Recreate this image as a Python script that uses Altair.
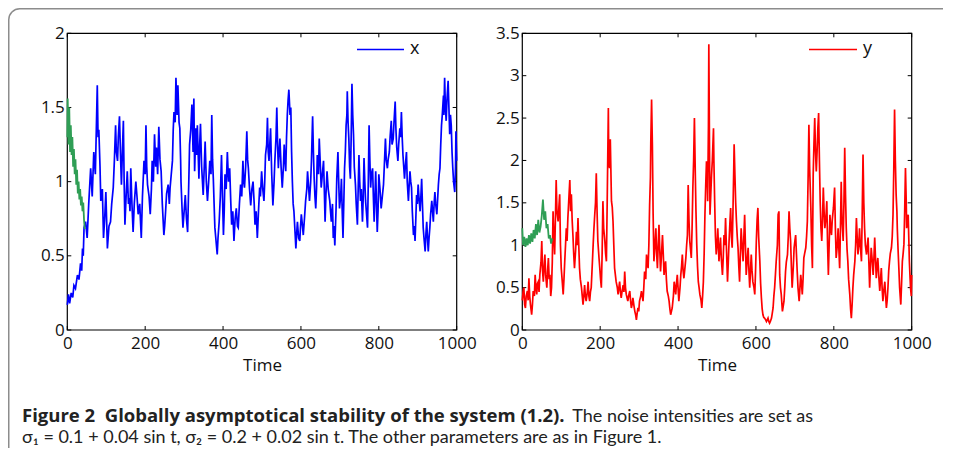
import altair as alt
import pandas as pd

# ---------------- data ----------------
x_series = [
 (0,0.17),(3,0.24),(6,0.18),(10,0.25),(14,0.22),(17,0.30),(21,0.28),(26,0.37),(30,0.34),(34,0.45),
 (37,0.40),(39,0.55),(41,0.50),(43,0.69),(47,0.73),(51,0.62),(55,0.85),(60,1.09),(64,0.90),(68,1.20),
 (72,1.05),(77,1.65),(79,1.30),(81,1.35),(84,1.10),(86,0.87),(90,0.95),(93,0.62),(96,0.75),(99,0.93),
 (103,0.55),(107,0.70),(111,0.73),(114,0.85),(118,0.96),(121,1.15),(124,1.38),(126,1.20),(129,1.14),(131,1.30),
 (134,1.44),(137,1.15),(139,0.98),(142,1.25),(144,1.41),(146,1.00),(148,0.71),(151,0.90),(154,1.07),(157,0.85),
 (159,0.89),(161,0.80),(163,1.09),(166,0.85),(169,0.66),(172,0.85),(176,1.00),(179,0.90),(182,0.78),(186,0.85),
 (190,0.62),(193,0.90),(197,1.14),(200,1.05),(202,1.38),(204,1.10),(206,0.98),(210,0.90),(213,0.78),(216,0.95),
 (218,1.14),(221,1.00),(224,1.32),(227,1.10),(229,1.23),(232,1.05),(235,1.37),(238,1.15),(241,1.07),(244,0.85),
 (248,0.64),(250,0.70),(252,0.78),(255,0.92),(259,0.98),(262,0.85),(264,0.96),(267,1.05),(270,1.14),(272,1.35),
 (274,1.47),(277,1.40),(279,1.70),(282,1.45),(284,1.65),(287,1.40),(289,1.36),(291,1.15),(292,1.00),(295,0.80),
 (297,0.69),(300,0.80),(303,0.91),(306,0.75),(309,0.66),(312,1.00),(314,1.25),(317,1.35),(320,1.52),(323,1.20),
 (325,1.56),(327,1.07),(330,1.36),(332,1.18),(334,1.38),(336,1.20),(338,1.02),(340,1.25),(342,1.39),(345,1.10),
 (349,0.91),(351,1.05),(354,1.27),(357,1.00),(360,0.87),(363,1.00),(366,1.14),(369,1.05),(371,1.45),(373,1.15),
 (375,1.02),(377,0.85),(379,0.69),(382,0.60),(385,0.51),(387,0.62),(390,0.73),(393,0.90),(396,1.18),(398,0.95),
 (401,0.64),(403,0.80),(405,1.05),(408,0.95),(411,1.20),(414,1.00),(417,1.09),(420,0.85),(422,0.71),(425,0.80),
 (428,0.60),(431,0.75),(434,0.82),(437,0.70),(439,0.69),(442,0.85),(445,0.98),(448,0.90),(451,1.14),(453,1.00),
 (455,0.96),(458,1.10),(461,1.34),(463,1.15),(465,1.09),(468,0.95),(471,0.84),(474,0.95),(477,1.00),(480,0.85),
 (482,0.71),(485,0.80),(488,0.62),(491,0.80),(494,0.96),(496,0.90),(499,1.07),(502,0.95),(505,0.87),(507,1.00),
 (509,1.18),(512,1.25),(514,1.43),(516,1.20),(518,1.14),(520,1.25),(522,1.36),(525,1.05),(528,0.84),(531,1.00),
 (533,1.14),(536,1.30),(538,1.50),(540,1.25),(542,1.09),(544,1.20),(546,1.29),(549,1.10),(552,0.96),(555,1.10),
 (557,1.25),(559,1.15),(561,1.07),(563,1.30),(565,1.45),(567,1.55),(569,1.62),(572,1.45),(574,1.50),(576,1.20),
 (578,1.00),(580,0.85),(582,0.80),(585,0.65),(587,0.55),(589,0.65),(591,0.73),(594,0.62),(597,0.60),(599,0.70),
 (601,0.78),(604,0.70),(606,0.64),(609,0.75),(612,0.87),(615,0.95),(617,1.07),(620,0.95),(622,0.87),(625,1.00),
 (627,1.14),(630,1.44),(632,1.20),(634,1.02),(636,0.90),(638,0.82),(640,0.95),(642,1.18),(645,1.05),(647,1.29),
 (650,1.10),(652,0.96),(655,1.05),(658,1.14),(660,0.95),(662,0.73),(664,0.90),(667,1.07),(670,0.95),(674,0.87),
 (676,0.80),(678,0.73),(681,0.85),(683,0.62),(685,0.70),(687,0.57),(690,0.80),(692,1.02),(695,1.20),(697,1.00),
 (699,0.82),(702,0.90),(704,1.02),(706,0.80),(708,0.62),(710,0.85),(712,1.09),(714,1.20),(716,1.38),(718,1.45),
 (719,1.61),(721,1.40),(723,1.29),(725,1.10),(727,1.02),(729,1.30),(731,1.66),(733,1.45),(735,1.32),(737,1.10),
 (740,0.98),(742,0.85),(745,0.71),(747,0.95),(749,1.18),(751,1.00),(753,0.87),(755,0.95),(758,0.73),(760,0.90),
 (762,1.16),(764,1.00),(766,0.87),(768,0.80),(771,0.69),(773,1.00),(775,1.38),(777,1.15),(779,0.96),(781,1.05),
 (784,1.09),(786,0.90),(788,0.73),(790,0.90),(792,1.07),(794,0.85),(796,0.66),(798,0.80),(800,1.05),(803,0.95),
 (806,0.82),(809,0.90),(812,0.98),(814,1.10),(817,1.29),(819,1.15),(822,1.09),(824,1.15),(827,1.20),(829,1.30),
 (832,1.41),(834,1.25),(837,1.29),(839,1.40),(842,1.54),(844,1.35),(846,1.23),(849,1.14),(851,1.25),(854,1.36),
 (856,1.30),(858,1.47),(860,1.30),(862,1.18),(864,1.10),(866,1.02),(868,1.10),(871,1.20),(873,1.00),(876,0.87),
 (878,0.98),(880,1.07),(882,1.00),(884,0.96),(886,0.80),(889,0.64),(891,0.70),(893,0.60),(895,0.75),(897,0.91),
 (899,0.85),(901,0.98),(903,0.90),(906,0.80),(908,0.90),(910,1.02),(912,0.85),(914,0.69),(916,0.62),(919,0.53),
 (921,0.65),(923,0.73),(925,0.62),(927,0.53),(929,0.62),(931,0.69),(933,0.78),(936,0.87),(938,0.80),(940,0.73),
 (942,0.85),(944,0.93),(946,0.85),(949,0.78),(951,0.88),(953,0.98),(955,1.05),(957,1.09),(959,1.25),(961,1.38),
 (963,1.45),(966,1.58),(967,1.45),(969,1.70),(971,1.50),(973,1.41),(975,1.55),(978,1.68),(980,1.50),(982,1.32),
 (984,1.45),(986,1.38),(988,1.20),(990,1.09),(992,1.00),(995,0.93),(997,1.10),(998,1.34),(1000,1.14),
]

x_green = [
 (0,1.30),(1,1.56),(3,1.25),(5,1.50),(7,1.20),(9,1.38),(11,1.18),(13,1.30),(15,1.10),(17,1.22),
 (19,1.05),(21,1.15),(23,0.98),(25,1.08),(27,0.92),(29,1.00),(31,0.88),(33,0.95),(35,0.84),(37,0.90),
 (39,0.80),(41,0.86),(43,0.74),(45,0.68),
]

y_series = [
 (0,0.35),(2,0.45),(4,0.50),(6,0.30),(8,0.26),(10,0.40),(13,0.46),(15,0.35),(17,0.61),(19,0.40),
 (21,0.30),(24,0.18),(26,0.30),(28,0.46),(31,0.40),(33,0.65),(35,0.50),(37,0.42),(39,0.55),(41,0.57),
 (43,0.45),(45,0.65),(48,0.80),(50,1.05),(52,0.70),(54,0.57),(56,0.75),(58,0.89),(60,0.65),(63,0.50),
 (65,0.70),(67,0.85),(69,0.60),(71,0.65),(73,0.40),(75,0.50),(77,0.80),(79,1.40),(81,1.10),(83,0.89),
 (85,1.30),(87,1.77),(89,1.40),(92,1.28),(94,1.45),(96,1.60),(98,1.00),(100,0.73),(103,0.55),(105,0.42),
 (107,0.60),(109,0.81),(111,1.00),(113,1.20),(115,1.05),(117,1.32),(119,1.50),(122,1.77),(124,1.40),(126,1.60),
 (128,1.30),(130,1.12),(132,0.90),(134,0.73),(137,0.95),(139,1.16),(141,1.00),(143,1.32),(145,1.00),(147,0.73),
 (149,0.60),(152,0.50),(154,0.40),(156,0.30),(158,0.40),(160,0.53),(162,0.40),(164,0.34),(167,0.45),(169,0.57),
 (171,0.40),(173,0.34),(175,0.45),(177,0.50),(180,0.80),(182,1.01),(184,1.20),(186,1.36),(188,1.50),(190,1.85),
 (192,1.40),(194,1.05),(197,0.85),(199,0.73),(201,0.60),(203,0.50),(205,0.90),(207,1.52),(209,1.20),(212,1.05),
 (214,0.90),(216,0.81),(218,1.50),(221,2.62),(222,2.00),(224,1.91),(226,2.25),(229,1.52),(231,1.45),(233,1.28),
 (235,1.00),(237,0.73),(239,0.65),(241,0.57),(244,0.50),(246,0.42),(248,0.50),(250,0.57),(252,0.45),(254,0.38),
 (256,0.45),(259,0.53),(261,0.45),(263,0.69),(265,0.50),(267,0.42),(269,0.38),(271,0.34),(273,0.40),(276,0.46),
 (278,0.35),(280,0.26),(282,0.30),(284,0.38),(287,0.28),(289,0.22),(291,0.18),(293,0.12),(295,0.20),(297,0.26),
 (299,0.22),(301,0.34),(304,0.40),(306,0.46),(308,0.40),(310,0.34),(312,0.50),(314,0.69),(317,0.60),(319,0.89),
 (321,0.80),(323,0.73),(325,1.00),(327,1.48),(329,1.80),(330,2.22),(332,2.72),(334,2.20),(336,1.36),(338,0.81),
 (340,0.95),(343,1.20),(345,0.90),(347,0.73),(349,1.00),(351,1.24),(353,0.95),(355,0.69),(357,0.85),(360,1.12),
 (362,0.90),(364,0.65),(366,0.75),(368,0.81),(370,0.60),(372,0.46),(375,0.40),(377,0.34),(379,0.25),(381,0.18),
 (383,0.22),(385,0.26),(388,0.40),(390,0.57),(392,0.50),(394,0.42),(396,0.55),(398,0.65),(400,0.50),(402,0.34),
 (405,0.50),(407,0.65),(409,0.75),(411,0.89),(413,0.70),(415,0.61),(418,0.75),(420,0.85),(422,1.00),(424,1.12),
 (426,1.71),(428,1.30),(430,1.05),(432,0.95),(434,0.85),(436,1.20),(438,1.68),(440,2.00),(442,2.50),(444,1.91),
 (446,1.40),(448,1.01),(450,0.75),(452,0.57),(454,0.50),(456,0.42),(459,0.35),(461,0.26),(463,0.40),(465,0.57),
 (467,0.90),(469,1.36),(471,1.70),(473,1.99),(475,1.80),(476,1.52),(478,2.40),(479,3.37),(481,2.00),(482,1.36),
 (484,1.60),(486,1.83),(488,2.00),(491,2.38),(492,2.00),(494,1.52),(496,1.10),(498,0.89),(500,1.00),(502,1.20),
 (504,0.95),(505,0.81),(507,0.95),(509,1.09),(511,0.85),(514,0.65),(516,0.85),(518,1.12),(520,1.00),(522,1.32),
 (524,1.00),(527,0.57),(529,0.80),(531,1.05),(533,1.25),(535,1.44),(537,1.10),(539,0.97),(541,1.40),(543,1.90),
 (544,2.19),(546,1.83),(548,1.50),(550,1.28),(552,1.10),(554,0.97),(556,0.75),(558,0.57),(560,0.90),(562,1.20),
 (565,0.95),(567,0.81),(569,1.10),(571,1.36),(573,1.00),(575,0.65),(578,0.85),(580,0.97),(582,0.70),(584,0.50),
 (586,0.70),(588,0.89),(590,0.70),(592,0.57),(595,0.50),(597,0.42),(599,0.70),(601,1.05),(603,1.30),(605,1.44),
 (607,1.10),(610,0.81),(612,0.55),(614,0.38),(616,0.25),(618,0.18),(620,0.15),(622,0.14),(625,0.12),(627,0.10),
 (629,0.12),(631,0.14),(633,0.10),(635,0.08),(637,0.10),(640,0.14),(642,0.20),(644,0.26),(646,0.40),(648,0.50),
 (650,0.65),(652,0.81),(655,1.00),(657,1.36),(659,1.40),(661,0.65),(663,0.50),(665,0.42),(668,0.22),(670,0.28),
 (672,0.34),(674,0.50),(676,0.69),(678,0.80),(681,0.89),(683,1.10),(685,1.40),(687,1.20),(689,1.05),(691,0.75),
 (693,0.50),(696,0.75),(698,0.97),(700,1.05),(702,1.12),(704,0.90),(706,0.69),(708,0.50),(711,0.34),(713,0.50),
 (715,0.65),(717,0.55),(719,0.42),(721,0.60),(723,0.85),(725,0.90),(728,0.97),(730,1.10),(732,1.28),(734,1.80),
 (736,2.42),(738,1.90),(741,1.44),(743,1.00),(745,0.73),(747,1.83),(749,2.20),(751,2.50),(753,2.10),(755,1.87),
 (757,2.10),(759,2.38),(761,2.56),(763,2.00),(765,1.52),(767,1.20),(769,1.05),(771,1.30),(773,1.68),(775,1.40),
 (777,1.20),(780,1.35),(782,1.52),(784,1.00),(786,0.65),(788,1.00),(790,1.36),(792,1.20),(794,1.12),(796,1.30),
 (799,1.44),(802,1.68),(804,1.20),(806,0.85),(809,1.00),(811,1.20),(813,0.95),(815,0.73),(817,1.20),(819,1.75),
 (821,1.30),(824,1.05),(826,1.50),(828,2.15),(830,1.60),(832,1.20),(834,0.95),(836,0.81),(838,0.60),(841,0.42),
 (843,0.25),(845,0.14),(847,0.30),(849,0.50),(851,0.65),(854,0.81),(856,1.00),(858,1.32),(860,1.10),(862,0.89),
 (864,1.00),(866,1.20),(868,1.00),(871,0.81),(873,1.40),(875,2.07),(877,1.50),(879,1.20),(881,1.00),(884,0.89),
 (886,1.00),(888,1.09),(890,0.80),(892,0.50),(894,0.75),(896,0.97),(899,0.80),(901,0.65),(903,0.85),(905,1.09),
 (907,0.85),(909,0.61),(911,0.75),(913,0.85),(916,0.60),(918,0.46),(920,0.60),(922,0.73),(924,0.50),(926,0.34),
 (928,0.45),(931,0.57),(933,0.40),(935,0.26),(937,0.35),(939,0.50),(941,0.70),(943,0.81),(945,0.90),(948,0.97),
 (950,1.10),(952,1.36),(954,1.90),(956,2.60),(958,2.00),(960,1.60),(962,1.40),(963,1.20),(965,0.95),(967,0.73),
 (969,0.50),(972,0.30),(974,0.55),(976,0.81),(978,0.90),(980,1.01),(982,1.40),(984,1.91),(986,1.50),(987,1.20),
 (989,1.30),(991,1.36),(993,1.00),(994,0.81),(996,0.60),(997,0.50),(999,0.40),(1000,0.65),
]

y_green = [
 (0,1.20),(2,1.00),(5,1.10),(8,0.98),(11,1.08),(14,1.00),(17,1.12),(20,1.02),(23,1.14),(26,1.04),
 (29,1.18),(32,1.08),(35,1.25),(38,1.12),(41,1.30),(44,1.15),(47,1.22),(50,1.35),(53,1.54),(56,1.30),
 (59,1.40),(62,1.20),(65,1.25),(68,1.08),(71,1.12),(74,1.02),(77,1.08),
]

x_ticks = [0, 200, 400, 600, 800, 1000]
left_y_ticks = [0, 0.5, 1, 1.5, 2]
right_y_ticks = [0, 0.5, 1, 1.5, 2, 2.5, 3, 3.5]
legend_labels = ["x", "y"]
caption_bold = "Figure 2\u00a0 Globally asymptotical stability of the system (1.2)."
caption_rest = "The noise intensities are set as"
caption_line2 = "σ\u2081 = 0.1 + 0.04 sin t, σ\u2082 = 0.2 + 0.02 sin t. The other parameters are as in Figure 1."

# ---------------- layout (pixels inside the chart) ----------------
W, H = 935, 440
TOP, BOT = 25.3, 322.0
L0, L1 = 59.3, 448.7
R0, R1 = 514.3, 903.7
FONT = "Open Sans"
CAP_FONT = "Lato"
TICK = 4

def df(pairs):
    return pd.DataFrame(pairs, columns=["t", "v"])

xL = alt.Scale(domain=[0, 1000], range=[L0, L1], nice=False, zero=False)
xR = alt.Scale(domain=[0, 1000], range=[R0, R1], nice=False, zero=False)
yL = alt.Scale(domain=[0, 2], range=[BOT, TOP], nice=False, zero=False)
yR = alt.Scale(domain=[0, 3.5], range=[BOT, TOP], nice=False, zero=False)

def x_axis():
    return alt.Axis(orient="bottom", offset=-(H - BOT), values=x_ticks, domain=False,
                    ticks=False, grid=False, labelFont=FONT, labelFontSize=17,
                    labelColor="#111", labelPadding=5, labelFlush=False, labelOverlap=False,
                    format="d", title="Time", titleFont=FONT, titleFontSize=17,
                    titleFontWeight="normal", titleColor="#111", titlePadding=6)

def y_axis(vals, pos):
    return alt.Axis(orient="left", offset=-pos, values=vals, domain=False, ticks=False,
                    grid=False, labelFont=FONT, labelFontSize=17, labelColor="#111",
                    labelPadding=3, labelOverlap=False, format="~g", title=None)

layers = []

# outer rounded figure box
box = pd.DataFrame({"k": [1]})
layers.append(alt.Chart(box).mark_rect(cornerRadius=11, fillOpacity=0, stroke="#8c8c8c",
                                       strokeWidth=1.5).encode(
    x=alt.value(0.75), x2=alt.value(1400), y=alt.value(0.75), y2=alt.value(1400)))

def panel(main, green, color, xs, ys, yvals, ymax, x0, x1):
    out = []
    frame = pd.DataFrame({"a": [0], "b": [1000], "c": [0], "d": [ymax]})
    out.append(alt.Chart(frame).mark_rect(fillOpacity=0, stroke="#000", strokeWidth=1.2).encode(
        x=alt.X("a:Q", scale=xs, axis=None), x2="b:Q",
        y=alt.Y("c:Q", scale=ys, axis=None), y2="d:Q"))
    xt = pd.DataFrame({"t": x_ticks})
    yt = pd.DataFrame({"v": yvals})
    for (a, b) in [(BOT, BOT - TICK), (TOP, TOP + TICK)]:
        out.append(alt.Chart(xt).mark_rule(color="#000", strokeWidth=1).encode(
            x=alt.X("t:Q", scale=xs, axis=None), y=alt.value(a), y2=alt.value(b)))
    for (a, b) in [(x0, x0 + TICK), (x1, x1 - TICK)]:
        out.append(alt.Chart(yt).mark_rule(color="#000", strokeWidth=1).encode(
            y=alt.Y("v:Q", scale=ys, axis=None), x=alt.value(a), x2=alt.value(b)))
    out.append(alt.Chart(df(main)).mark_line(color=color, strokeWidth=1.7).encode(
        x=alt.X("t:Q", scale=xs, axis=x_axis()),
        y=alt.Y("v:Q", scale=ys, axis=y_axis(yvals, x0))))
    out.append(alt.Chart(df(green)).mark_line(color="#2f9e55", strokeWidth=1.8).encode(
        x=alt.X("t:Q", scale=xs, axis=None),
        y=alt.Y("v:Q", scale=ys, axis=None)))
    return out

layers += panel(x_series, x_green, "#0000ff", xL, yL, left_y_ticks, 2, L0, L1)
layers += panel(y_series, y_green, "#ff0000", xR, yR, right_y_ticks, 3.5, R0, R1)

# legends
for lab, color, xa, xb in [(legend_labels[0], "#0000ff", 349, 396),
                           (legend_labels[1], "#ff0000", 801, 849)]:
    d = pd.DataFrame({"label": [lab]})
    layers.append(alt.Chart(d).mark_rule(color=color, strokeWidth=1.4).encode(
        x=alt.value(xa), x2=alt.value(xb), y=alt.value(41.5)))
    layers.append(alt.Chart(d).mark_text(align="left", baseline="alphabetic", font=FONT,
                                         fontSize=18, color="#111").encode(
        x=alt.value(xb + 6), y=alt.value(46), text="label:N"))

# caption
cap = pd.DataFrame({"s": [caption_bold]})
layers.append(alt.Chart(cap).mark_text(align="left", baseline="alphabetic", font=FONT,
                                       fontSize=18.5, fontWeight="bold", color="#222").encode(
    x=alt.value(14), y=alt.value(414), text="s:N"))
cap2 = pd.DataFrame({"s": [caption_rest]})
layers.append(alt.Chart(cap2).mark_text(align="right", baseline="alphabetic", font=CAP_FONT,
                                        fontSize=18, color="#222").encode(
    x=alt.value(805), y=alt.value(414), text="s:N"))
cap3 = pd.DataFrame({"s": [caption_line2]})
layers.append(alt.Chart(cap3).mark_text(align="left", baseline="alphabetic", font=CAP_FONT,
                                        fontSize=18, color="#222").encode(
    x=alt.value(14), y=alt.value(435), text="s:N"))

chart = alt.layer(*layers).resolve_scale(x="independent", y="independent").properties(
    width=W, height=H, autosize=alt.AutoSizeParams(type="none"), padding=0,
    background="white").configure_view(stroke=None)

chart.save("out.html", embed_options={"renderer": "svg", "actions": False})
